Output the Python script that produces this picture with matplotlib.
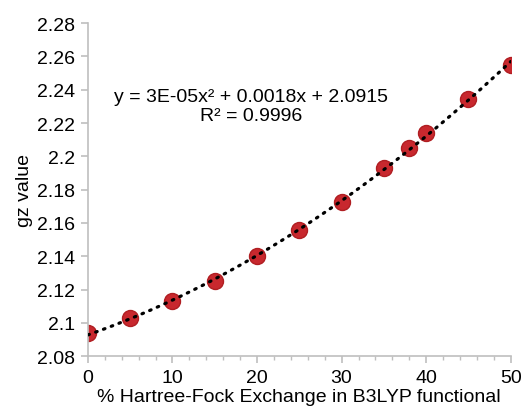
import numpy as np
import matplotlib
matplotlib.use("Agg")
import matplotlib.pyplot as plt
from matplotlib.ticker import MultipleLocator

plt.rcParams['font.family'] = ['Liberation Sans', 'DejaVu Sans']

hf_exchange = [0, 5, 10, 15, 20, 25, 30, 35, 38, 40, 45, 50]
gz_value = [2.0936, 2.1026, 2.1132, 2.1252, 2.1399, 2.1557, 2.1727,
            2.1929, 2.2049, 2.2138, 2.2344, 2.2550]
y_ticks = [2.08, 2.10, 2.12, 2.14, 2.16, 2.18, 2.20, 2.22, 2.24, 2.26, 2.28]

fig = plt.figure(figsize=(5.26, 4.10), dpi=100)
ax = fig.add_axes([0.167, 0.129, 0.804, 0.812])

# second order polynomial trendline
coef = np.polyfit(hf_exchange, gz_value, 2)
xs = np.linspace(0, 50, 200)
ax.plot(xs, np.polyval(coef, xs), color='black', lw=2.3,
        linestyle=(0, (0.5, 2.1)), dash_capstyle='round', zorder=3)

ax.plot(hf_exchange, gz_value, 'o', ms=11.5, mfc='#c8282e', mec='#b01e22',
        mew=1.0, zorder=2)

ax.set_xlim(0, 50)
ax.set_ylim(2.08, 2.28)
ax.xaxis.set_major_locator(MultipleLocator(10))
ax.xaxis.set_minor_locator(MultipleLocator(2))
ax.set_yticks(y_ticks)
ax.set_yticklabels([f"{v:g}" for v in y_ticks])

for side in ['top', 'right']:
    ax.spines[side].set_visible(False)
for side in ['left', 'bottom']:
    ax.spines[side].set_color('#bfbfbf')
    ax.spines[side].set_linewidth(1.2)

ax.tick_params(axis='both', which='major', direction='out', length=5,
               color='#bfbfbf', width=1.2, labelsize=14, pad=4)
ax.tick_params(axis='x', which='minor', direction='out', length=3,
               color='#bfbfbf', width=1.0)

ax.set_xlabel('% Hartree-Fock Exchange in B3LYP functional', fontsize=14,
              labelpad=2)
ax.set_ylabel('gz value', fontsize=14, labelpad=3)

ax.text(19.3, 2.2362, 'y = 3E-05x² + 0.0018x + 2.0915', fontsize=14,
        ha='center', va='center')
ax.text(19.3, 2.2247, 'R² = 0.9996', fontsize=14, ha='center', va='center')

fig.savefig('out.png', dpi=100)
